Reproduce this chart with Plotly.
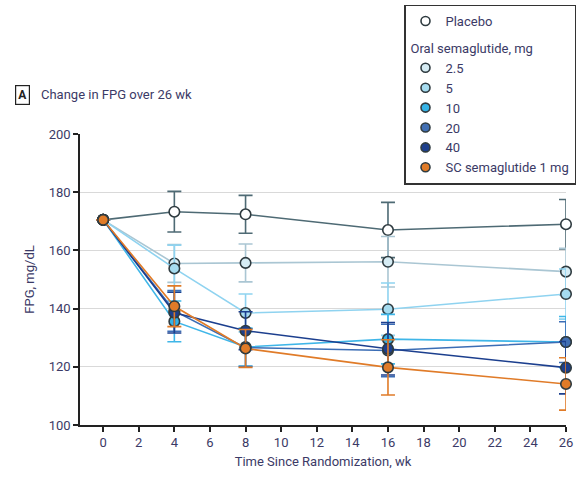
import plotly.graph_objects as go

weeks = [0, 4, 8, 16, 26]
placebo = [170.5, 173.3, 172.4, 167.0, 169.0]
placebo_err = [0, 7.0, 6.5, 9.5, 8.5]
mg2_5 = [170.5, 155.5, 155.7, 156.1, 152.7]
mg2_5_err = [0, 6.5, 6.5, 8.7, 8.0]
mg5 = [170.5, 153.8, 138.5, 139.8, 145.0]
mg5_err = [0, 8.0, 6.5, 9.0, 8.6]
mg10 = [170.5, 135.6, 126.8, 129.5, 128.5]
mg10_err = [0, 7.0, 6.5, 8.5, 8.8]
mg20 = [170.5, 139.2, 126.6, 125.6, 128.5]
mg20_err = [0, 7.0, 6.5, 9.0, 7.0]
mg40 = [170.5, 138.6, 132.4, 126.2, 119.7]
mg40_err = [0, 7.0, 6.5, 9.0, 9.0]
sc1 = [170.5, 140.8, 126.3, 119.8, 114.1]
sc1_err = [0, 7.0, 6.5, 9.5, 9.0]

names = ["Placebo", "2.5", "5", "10", "20", "40", "SC semaglutide 1 mg"]
values = [placebo, mg2_5, mg5, mg10, mg20, mg40, sc1]
errors = [placebo_err, mg2_5_err, mg5_err, mg10_err, mg20_err, mg40_err, sc1_err]
line_colors = ["#4e6a74", "#aac6d3", "#8fd3f0", "#3fb6e8", "#3b6db5", "#1c3f8e", "#e07b28"]
fill_colors = ["#ffffff", "#d6ecf4", "#a6dcf0", "#35b3e6", "#416fb3", "#1d3f8c", "#e07b28"]
groups = ["p", "o", "o", "o", "o", "o", "o"]

FONT = "Roboto, sans-serif"
TXT = "#3b3a66"

fig = go.Figure()
for i, (n, v, e) in enumerate(zip(names, values, errors)):
    fig.add_trace(go.Scatter(
        x=weeks, y=v, name=n, mode="lines+markers",
        showlegend=False,
        line=dict(color=line_colors[i], width=1.6),
        marker=dict(size=10.5, color=fill_colors[i], line=dict(color="#2f3b40", width=1.6)),
        error_y=dict(type="data", array=e, visible=True, color=line_colors[i], thickness=1.6, width=7),
        cliponaxis=False,
    ))

# legend entries (marker only)
for i, n in enumerate(names):
    kw = {}
    if groups[i] == "o":
        kw["legendgrouptitle"] = dict(text="Oral semaglutide, mg", font=dict(size=13, color=TXT, family=FONT))
    fig.add_trace(go.Scatter(
        x=[None], y=[None], name=n, mode="markers", legendgroup=groups[i],
        marker=dict(size=9, color=fill_colors[i], line=dict(color="#2f3b40", width=1.6)),
        **kw,
    ))

fig.update_layout(
    width=577, height=479,
    margin=dict(l=80, r=11, t=134, b=54, autoexpand=False),
    paper_bgcolor="white", plot_bgcolor="white",
    font=dict(family=FONT, size=13, color=TXT),
    showlegend=True,
    legend=dict(x=(404 - 80) / 486, y=(425 - 5) / 290.7, xanchor="left", yanchor="top",
                bordercolor="#333333", borderwidth=1.5, bgcolor="white",
                font=dict(size=13, color=TXT, family=FONT),
                traceorder="grouped", tracegroupgap=7, itemwidth=30),
    xaxis=dict(range=[-1.3, 26], tickvals=list(range(0, 27, 2)), showgrid=False, zeroline=False,
               showline=True, linecolor="#222", linewidth=1.5, ticks="outside", ticklen=5,
               tickcolor="#222", tickwidth=1.5, automargin=False,
               title=dict(text="Time Since Randomization, wk", font=dict(size=13, color=TXT), standoff=8),
               tickfont=dict(size=13, color=TXT)),
    yaxis=dict(range=[100, 200], tickvals=[100, 120, 140, 160, 180, 200], showgrid=True,
               gridcolor="#d9d9d9", gridwidth=1, zeroline=False, automargin=False,
               showline=True, linecolor="#222", linewidth=1.5, ticks="outside", ticklen=5,
               tickcolor="#222", tickwidth=1.5,
               title=dict(text="FPG, mg/dL", font=dict(size=13, color=TXT), standoff=11),
               tickfont=dict(size=13, color=TXT)),
)

fig.add_annotation(x=(22 - 80) / 486, y=(425 - 95) / 290.7, xref="paper", yref="paper", text="<b>A</b>",
                   showarrow=False, xanchor="center", yanchor="middle",
                   font=dict(size=12, color="#222", family=FONT),
                   bordercolor="#222", borderwidth=1.2, borderpad=2)
fig.add_annotation(x=(39 - 80) / 486, y=(425 - 95) / 290.7, xref="paper", yref="paper",
                   text="Change in FPG over 26 wk", showarrow=False, xanchor="left", yanchor="middle",
                   font=dict(size=13, color=TXT, family=FONT))

fig.write_html("out.html", config={"displayModeBar": False, "displaylogo": False},
               post_script="document.body.style.margin='0';document.body.style.overflow='hidden';")
